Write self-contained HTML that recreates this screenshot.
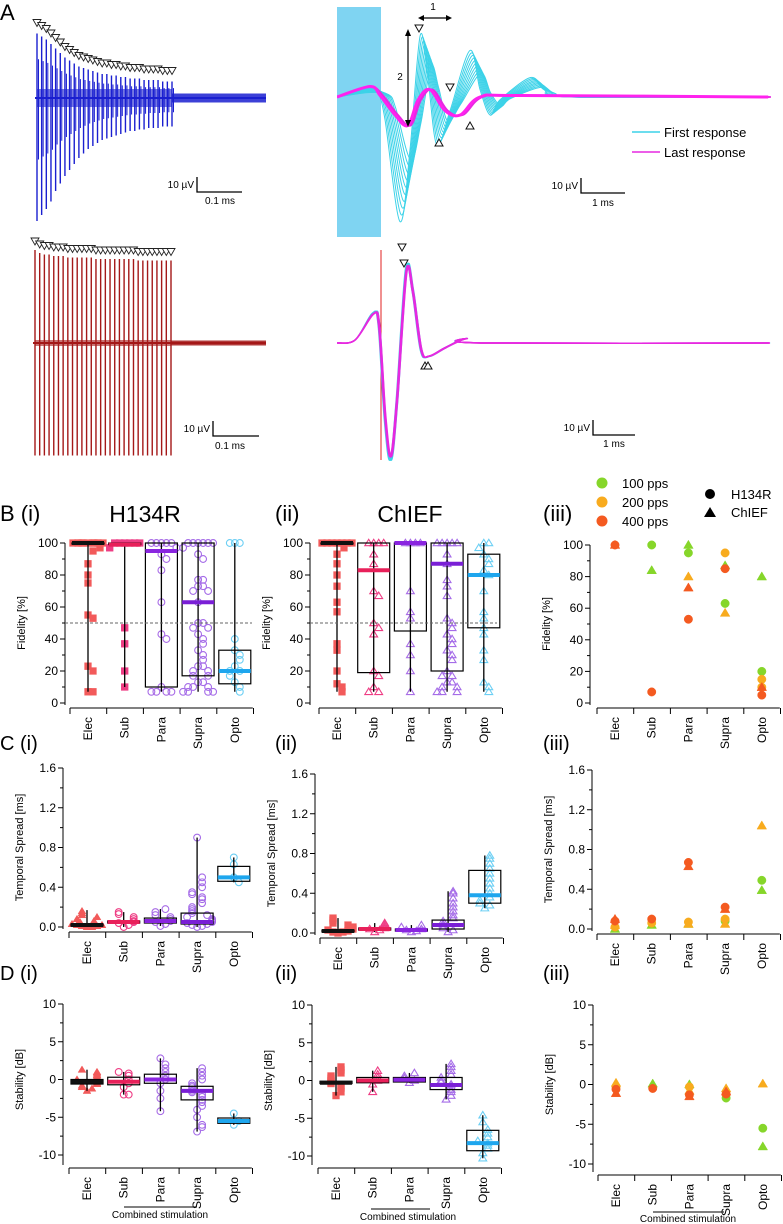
<!DOCTYPE html>
<html><head><meta charset="utf-8"><style>
html,body{margin:0;padding:0;background:#fff;}
svg{display:block;font-family:"Liberation Sans",sans-serif;}
.t{font-family:"Liberation Sans Narrow","Liberation Sans",sans-serif;}
</style></head><body>
<svg id="fig" width="783" height="1224" viewBox="0 0 783 1224" xmlns="http://www.w3.org/2000/svg">
<defs><clipPath id="clipR"><rect x="337" y="0" width="434" height="470"/></clipPath></defs>
<g id="panelA"></g>
<g id="charts"></g>
</svg>
<script>
// ===== Panel A data =====
const blueUp=[43,41,39,36,33,30,27,25,23,21,20,19,18,17,16,16,15,15,14,14,13,13,13,12,12,12,12,11,11,11];
const blueDown=[82,78,74,69,62,57,52,48,44,40,37,34,32,30,28,27,26,25,24,23,22,22,21,21,20,20,20,19,19,19];
const redUp=[62,60,59,59,58,58,58,57,57,57,57,57,57,56,56,56,56,56,56,56,56,56,55,55,55,55,55,55,55,55];
const redDown=[75,75,75,75,75,75,75,75,75,75,75,75,75,75,75,75,75,75,75,75,75,75,75,75,75,75,75,75,75,75];
const firstX=[0,0.75,0.93,1.09,1.43,1.66,1.89,2.07,2.27,2.57,3.02,3.25,3.48,3.7,4.4,4.7,5.3,9.8];
const firstY=[0,6,3,-15,-83,-35,41,11,-32,-9,31,5,-12,-2,13,5,0,0];
const lastX=[0,0.75,0.98,1.32,1.61,1.84,2.11,2.45,2.8,3.25,4.2,9.8];
const lastY=[0,7,1,-12,-19,-2,5,-9,-12,0,1,0];
const bottomX=[0,0.41,0.8,0.93,1.07,1.2,1.34,1.55,1.7,1.89,2.07,2.45,2.91,3.25,9.8];
const bottomY=[0,2,20,12,-51,-78,-38,49,35,-5,-9,-3,3,0,0];

const NS="http://www.w3.org/2000/svg";
function mk(tag,attrs,parent){const e=document.createElementNS(NS,tag);for(const k in attrs)e.setAttribute(k,attrs[k]);parent.appendChild(e);return e;}
const A=document.getElementById('panelA');
const C=document.getElementById('charts');

let el=mk('text',{x:0,y:20,'font-size':22},A);el.textContent='A';



const uvPx=1.5;
function train(up,down,x0,x1,base,color,name,triOff,band,tail,dbl){
  const g=mk('g',{},A);
  
  
  const n=up.length, step=(x1-x0)/(n-1);
  mk('line',{x1:x0-2,x2:266,y1:base,y2:base,stroke:color,'stroke-width':2},g);
  mk('rect',{x:x0,y:base-band/2,width:x1-x0,height:band,fill:color,opacity:0.6},g);
  for(let i=0;i<n;i++){
    const x=x0+i*step;
    mk('line',{x1:x,x2:x,y1:base-up[i]*uvPx,y2:base+down[i]*uvPx,stroke:color,'stroke-width':1.4},g);
    if(dbl)mk('line',{x1:x+1.5,x2:x+1.5,y1:base-up[i]*uvPx*0.6,y2:base+down[i]*uvPx*0.5,stroke:color,'stroke-width':1},g);
    const ty=base-up[i]*uvPx-triOff;
    mk('path',{d:`M${x-4},${ty-4}L${x+4},${ty-4}L${x},${ty+3}Z`,fill:'#fff',stroke:'#222','stroke-width':0.9},g);
  }
  mk('rect',{x:x1,y:base-tail/2,width:266-x1,height:tail,fill:color,opacity:0.85},g);
}
train(blueUp,blueDown,37,172,98,'#1a1fd0','blue-spike-train',10,18,9,true);
train(redUp,redDown,35,171,343,'#a41818','red-spike-train',8,6,5,false);

const msPx=44, t0=337;
function smooth(pts){
  let d='M'+pts[0][0].toFixed(1)+','+pts[0][1].toFixed(1);
  for(let i=0;i<pts.length-1;i++){
    const p0=pts[Math.max(0,i-1)],p1=pts[i],p2=pts[i+1],p3=pts[Math.min(pts.length-1,i+2)];
    const c1=[p1[0]+(p2[0]-p0[0])/6,p1[1]+(p2[1]-p0[1])/6];
    const c2=[p2[0]-(p3[0]-p1[0])/6,p2[1]-(p3[1]-p1[1])/6];
    d+=`C${c1[0].toFixed(1)},${c1[1].toFixed(1)} ${c2[0].toFixed(1)},${c2[1].toFixed(1)} ${p2[0].toFixed(1)},${p2[1].toFixed(1)}`;
  }
  return d;
}
function wave(xs,ys,base,color,name,dx,sc,w){
  const pts=xs.map((v,i)=>[t0+v*msPx+(i>1?dx:0),base-ys[i]*sc*uvPx]);
  const p=mk('path',{d:smooth(pts),fill:'none',stroke:color,'stroke-width':w||1,'stroke-linejoin':'round','clip-path':'url(#clipR)'},A);
  
  
}
mk('rect',{x:337,y:7,width:44,height:230,fill:'#7fd4f2'},A);
for(let k=0;k<10;k++){wave(firstX,firstY,97,'#3cd2e8','first-response-trace',k*1.2,1-k*0.055,1);}
for(let k=0;k<5;k++){wave(lastX,lastY,97,k<2?'#8a7ff0':'#e629e0','last-response-trace',k*0.8,1,1.4);}
wave(lastX,lastY,97,'#ff22ee','last-response-trace',0,1,3);
mk('line',{x1:408,x2:408,y1:32,y2:124,stroke:'#000','stroke-width':1.2},A);
mk('path',{d:'M405,36L408,29L411,36ZM405,120L408,127L411,120Z',fill:'#000'},A);
mk('line',{x1:422,x2:448,y1:18,y2:18,stroke:'#000','stroke-width':1.2},A);
mk('path',{d:'M424,15L418,18L424,21ZM446,15L452,18L446,21Z',fill:'#000'},A);
el=mk('text',{x:433,y:10,'font-size':10,'text-anchor':'middle'},A);el.textContent='1';
el=mk('text',{x:400,y:80,'font-size':10,'text-anchor':'middle'},A);el.textContent='2';
function tri(x,y,down,g){mk('path',{d:down?`M${x-4},${y-4}L${x+4},${y-4}L${x},${y+3}Z`:`M${x-4},${y+3}L${x+4},${y+3}L${x},${y-4}Z`,fill:'#fff',stroke:'#111','stroke-width':1},g);}
tri(419,29,true,A);tri(450,88,true,A);tri(439,143,false,A);tri(470,126,false,A);
mk('line',{x1:632,x2:660,y1:132,y2:132,stroke:'#3cd2e8','stroke-width':1.5},A);
mk('line',{x1:632,x2:660,y1:152,y2:152,stroke:'#e629e0','stroke-width':1.5},A);
el=mk('text',{x:664,y:137,'font-size':13,class:'t'},A);el.textContent='First response';

el=mk('text',{x:664,y:157,'font-size':13,class:'t'},A);el.textContent='Last response';


mk('line',{x1:381,x2:381,y1:250,y2:460,stroke:'#e02020','stroke-width':1},A);
for(let k=0;k<5;k++){wave(bottomX,bottomY,343,'#3cd2e8','bottom-first-trace',k*0.5,1,1);}
for(let k=0;k<4;k++){wave(bottomX,bottomY,343,'#e629e0','bottom-last-trace',0.6+k*0.4,0.97,1.5);}
tri(402,248,true,A);tri(404,264,true,A);tri(425,366,false,A);tri(428,366,false,A);

function sbar(x,y,len,lab1,lab2,lx,ly2,name){
  const g=mk('g',{},A);
  
  
  mk('path',{d:`M${x},${y-15}L${x},${y}L${x+len},${y}`,fill:'none',stroke:'#000','stroke-width':1.3},g);
  let t=mk('text',{x:x-3,y:y-4,'font-size':10,'text-anchor':'end',class:'t'},g);t.textContent=lab1;
  t=mk('text',{x:lx,y:ly2,'font-size':10,'text-anchor':'middle',class:'t'},g);t.textContent=lab2;
}
sbar(197,192,45,'10 µV','0.1 ms',220,204,'scale-bar-top-left');
sbar(581,193,44,'10 µV','1 ms',603,206,'scale-bar-top-right');
sbar(213,436,46,'10 µV','0.1 ms',230,449,'scale-bar-bottom-left');
sbar(593,435,42,'10 µV','1 ms',614,447,'scale-bar-bottom-right');

// ===== Summary charts data =====
const cats=['Elec','Sub','Para','Supra','Opto'];
const fidH_med=[100,99,95,63,20], fidH_q1=[100,99,10,17,12], fidH_q3=[100,100,100,100,33], fidH_lo=[7,10,7,7,7], fidH_hi=[100,100,100,100,100];
const fidH_pts=[[100,100,100,100,100,100,100,100,100,97,95,87,80,75,55,53,23,20,7,7],[100,100,100,100,100,100,97,47,37,20,10],[100,100,100,100,100,97,93,90,83,63,43,40,10,7,7,7,7],[100,100,100,100,100,100,97,93,90,77,77,73,73,70,70,63,50,50,47,47,43,40,37,33,30,27,23,23,20,20,17,17,13,13,10,10,10,7,7,7,7],[100,100,100,40,33,30,27,23,20,20,17,13,10,7]];
const fidC_med=[100,83,100,87,80], fidC_q1=[100,19,45,20,47], fidC_q3=[100,100,100,100,93], fidC_lo=[7,7,7,7,7], fidC_hi=[100,100,100,100,100];
const fidC_pts=[[100,100,100,100,100,100,100,97,93,87,80,73,63,57,37,33,20,12,10,7],[100,100,100,100,93,87,70,67,50,47,43,20,17,10,7,7],[100,100,100,100,70,57,53,37,30,20,7],[100,100,100,100,100,93,87,77,73,67,53,50,47,43,40,37,33,30,27,20,17,17,13,13,10,10,7,7,7],[100,100,97,93,90,87,83,80,70,57,53,47,43,33,27,13,10,7]];
const tsH_med=[0.02,0.05,0.06,0.05,0.5], tsH_q1=[0.01,0.04,0.04,0.03,0.46], tsH_q3=[0.03,0.06,0.09,0.14,0.61], tsH_lo=[0,0,0.01,0,0.45], tsH_hi=[0.17,0.15,0.18,0.9,0.7];
const tsH_pts=[[0,0,0.01,0.01,0.02,0.02,0.03,0.04,0.05,0.06,0.08,0.1,0.12,0.14,0.16],[0,0.02,0.04,0.05,0.06,0.08,0.1,0.13,0.15],[0.01,0.03,0.05,0.06,0.08,0.1,0.12,0.15,0.18],[0,0.01,0.02,0.03,0.04,0.05,0.06,0.07,0.08,0.1,0.12,0.14,0.16,0.18,0.2,0.24,0.28,0.3,0.33,0.35,0.4,0.45,0.5,0.9],[0.7,0.63,0.5,0.45]];
const tsC_med=[0.02,0.04,0.03,0.08,0.38], tsC_q1=[0.01,0.03,0.02,0.04,0.3], tsC_q3=[0.03,0.05,0.04,0.13,0.63], tsC_lo=[0,0.01,0.01,0.01,0.25], tsC_hi=[0.15,0.1,0.08,0.42,0.78];
const tsC_pts=[[0,0.01,0.01,0.02,0.03,0.04,0.06,0.08,0.1,0.13,0.15],[0.01,0.03,0.04,0.05,0.07,0.09,0.1],[0.01,0.02,0.03,0.04,0.06,0.08],[0.01,0.03,0.05,0.07,0.09,0.12,0.15,0.18,0.22,0.26,0.3,0.35,0.4,0.42],[0.25,0.28,0.3,0.33,0.36,0.4,0.45,0.5,0.55,0.6,0.65,0.7,0.75,0.78]];
const stH_med=[-0.3,-0.3,0,-1.5,-5.5], stH_q1=[-0.6,-0.7,-0.5,-2.7,-5.8], stH_q3=[0,0.3,0.7,-0.9,-5.1], stH_lo=[-1.5,-2,-4.2,-6.9,-6], stH_hi=[1.3,1,2.8,1.5,-4.5];
const stH_pts=[[-1.5,-1.2,-1,-0.8,-0.6,-0.5,-0.3,-0.2,0,0.2,0.4,0.6,0.8,1,1.3],[-2,-2,-1,-0.5,0,0.5,0.8,1],[-4.2,-2.5,-1.5,-0.5,0,0.5,1,1.5,2,2.8],[-6.9,-6.3,-6,-5,-4,-3.5,-3,-2.7,-2.3,-2,-1.7,-1.5,-1.3,-1,-0.8,-0.5,0,0.5,1,1.5],[-6,-5.5,-4.5]];
const stC_med=[-0.3,0,0.1,-0.6,-8.3], stC_q1=[-0.4,-0.3,-0.2,-1.2,-9.3], stC_q3=[-0.1,0.4,0.4,0.4,-6.6], stC_lo=[-2,-1.5,-0.3,-2.5,-10.3], stC_hi=[1.8,1.3,1,2.2,-4.6];
const stC_pts=[[-2,-1.5,-1,-0.7,-0.4,-0.2,0,0.3,0.6,1,1.4,1.8],[-1.5,-0.5,0,0.4,0.8,1.3],[-0.3,0,0.3,0.6,1],[-2.5,-2,-1.5,-1.2,-0.8,-0.5,-0.2,0,0.4,0.8,1.3,1.8,2.2],[-10.3,-9.6,-9,-8.6,-8.3,-8,-7.5,-7,-6.5,-5.5,-4.6]];
const rate=['100 pps','200 pps','400 pps'];
const fidHr_cat=[[1,2,3,4],[3,4,4],[1,2,3,4,0]], fidHr_val=[[100,95,63,20],[95,15,10],[7,53,85,5,100]];
const fidCr_cat=[[1,2,3,4],[2,3],[0,2,4]], fidCr_val=[[84,100,87,80],[80,57],[100,73,10]];
const tsHr_cat=[[3,4],[0,1,2,3],[0,1,2,3]], tsHr_val=[[0.08,0.49],[0.02,0.06,0.07,0.1],[0.08,0.1,0.67,0.22]];
const tsCr_cat=[[0,1,2,4],[0,2,3,4],[0,2,3]], tsCr_val=[[0,0.04,0.05,0.39],[0.04,0.05,0.05,1.04],[0.1,0.63,0.2]];
const stHr_cat=[[3,4],[0,2],[0,1,2,3]], stHr_val=[[-1.7,-5.5],[-0.3,-0.3],[-0.6,-0.5,-1.3,-1.2]];
const stCr_cat=[[1,2,4],[0,2,3,4],[0,2,3]], stCr_val=[[0.1,0,-7.8],[0.2,-0.8,-0.5,0.1],[-1.1,-1.5,-0.9]];

const rateCol=['#86d62a','#f8ab1e','#f45a20'];
const ptCol=['#f25a5a','#ee3d84','#a86ce6','#a56ce8','#6ccff4'];
const medCol=['#111','#e8205a','#8a25e0','#7a1fd6','#1ea6ee'];

function axisY(g,cfg){
  const {ax,vTop,vBot,yTop,yBot,ticks,minor,fmt,yEnd}=cfg;
  const sc=v=>yBot+(v-vBot)*(yTop-yBot)/(vTop-vBot);
  mk('line',{x1:ax,x2:ax,y1:yTop,y2:yEnd,stroke:'#000','stroke-width':1},g);
  ticks.forEach(v=>{const y=sc(v);mk('line',{x1:ax-5,x2:ax,y1:y,y2:y,stroke:'#000'},g);
    const t=mk('text',{x:ax-7,y:y+4,'font-size':12,'text-anchor':'end',class:'t'},g);t.textContent=fmt(v);
    });
  minor.forEach(v=>{const y=sc(v);mk('line',{x1:ax-3,x2:ax,y1:y,y2:y,stroke:'#000'},g);});
  return sc;
}
function axisX(g,cx,y){
  mk('line',{x1:cx-18,x2:cx+4*36.7+18,y1:y,y2:y,stroke:'#000'},g);
  for(let i=0;i<=5;i++){const x=cx-18+i*36.7;mk('line',{x1:x,x2:x,y1:y,y2:y+6,stroke:'#000'},g);}
  cats.forEach((c,i)=>{const x=cx+i*36.7;
    const t=mk('text',{x:0,y:0,'font-size':12,'text-anchor':'end',transform:`translate(${x+4},${y+9}) rotate(-90)`},g);t.textContent=c;
    });
}
function marker(g,shape,x,y,col,filled,r){
  const a={fill:filled?col:'none',stroke:col,'stroke-width':filled?0.5:1.1};
  if(shape==='sq')mk('rect',Object.assign({x:x-r,y:y-r,width:2*r,height:2*r},a),g);
  else if(shape==='tri')mk('path',Object.assign({d:`M${x-r-0.5},${y+r*0.8}L${x+r+0.5},${y+r*0.8}L${x},${y-r*1.1}Z`},a),g);
  else mk('circle',Object.assign({cx:x,cy:y,r:r},a),g);
}
function ytitle(g,x,y,txt){const t=mk('text',{x:0,y:0,'font-size':11,'text-anchor':'middle',transform:`translate(${x},${y}) rotate(-90)`},g);t.textContent=txt;
  }

function boxChart(name,cfg,med,q1,q3,lo,hi,pts,shapes,fills){
  const g=mk('g',{},C);
  
  
  const sc=axisY(g,cfg);
  axisX(g,cfg.cx,cfg.xAxisY);
  ytitle(g,cfg.ax-40,(cfg.yTop+cfg.yBot)/2,cfg.title);
  cats.forEach((c,i)=>{
    const x=cfg.cx+i*36.7;
    const placed=[];
    pts[i].forEach(v=>{const y=sc(v);let n=0;placed.forEach(p=>{if(Math.abs(p-y)<5)n++;});placed.push(y);
      let off=(n%2?1:-1)*Math.ceil(n/2)*5;if(Math.abs(off)>15)off=Math.sign(off)*((Math.abs(off)%15)+2);
      marker(g,shapes[i],x+off,y,ptCol[i],fills[i],3.4);});
    const b=mk('rect',{x:x-16,y:sc(q3[i]),width:32,height:Math.max(1,sc(q1[i])-sc(q3[i])),fill:'none',stroke:'#000','stroke-width':1.2},g);
    
    mk('line',{x1:x,x2:x,y1:sc(hi[i]),y2:sc(lo[i]),stroke:'#000','stroke-width':1.3},g);
    const m=mk('line',{x1:x-16,x2:x+16,y1:sc(med[i]),y2:sc(med[i]),stroke:medCol[i],'stroke-width':4},g);
    
  });
}
function scatterChart(name,cfg,hc,hv,cc,cv){
  const g=mk('g',{},C);
  
  
  const sc=axisY(g,cfg);
  axisX(g,cfg.cx,cfg.xAxisY);
  ytitle(g,cfg.ax-40,(cfg.yTop+cfg.yBot)/2,cfg.title);
  [0,1,2].forEach(r=>{
    hc[r].forEach((ci,j)=>marker(g,'circ',cfg.cx+ci*36.7,sc(hv[r][j]),rateCol[r],true,4.2));
    cc[r].forEach((ci,j)=>marker(g,'tri',cfg.cx+ci*36.7,sc(cv[r][j]),rateCol[r],true,4.3));
  });
}
const f0=v=>String(v), f1=v=>v.toFixed(1);
const fidT=[0,20,40,60,80,100], fidM=[10,30,50,70,90];
const tsT=[0,0.4,0.8,1.2,1.6], tsM=[0.2,0.6,1.0,1.4];
const stT=[-10,-5,0,5,10], stM=[-7.5,-2.5,2.5,7.5];
function cfgB(ax,cx,yTop,yBot){return {ax,cx,vTop:100,vBot:0,yTop,yBot,ticks:fidT,minor:fidM,fmt:f0,yEnd:yBot+2,xAxisY:yBot+5,title:'Fidelity [%]'};}
function cfgC(ax,cx,yTop,yBot){return {ax,cx,vTop:1.6,vBot:0,yTop,yBot,ticks:tsT,minor:tsM,fmt:f1,yEnd:yBot+2,xAxisY:yBot+5,title:'Temporal Spread [ms]'};}
function cfgD(ax,cx,yTop,yBot,xa){return {ax,cx,vTop:10,vBot:-10,yTop,yBot,ticks:stT,minor:stM,fmt:f0,yEnd:xa-3,xAxisY:xa,title:'Stability [dB]'};}

const shH=['sq','sq','circ','circ','circ'], fiH=[true,true,false,false,false];
const shHc=['tri','circ','circ','circ','circ'], fiHc=[true,false,false,false,false];
const shC=['sq','tri','tri','tri','tri'], fiC=[true,false,false,false,false];
boxChart('chart-fidelity-h134r',cfgB(65,88,543,703),fidH_med,fidH_q1,fidH_q3,fidH_lo,fidH_hi,fidH_pts,shH,fiH);
boxChart('chart-fidelity-chief',cfgB(310,337,543,703),fidC_med,fidC_q1,fidC_q3,fidC_lo,fidC_hi,fidC_pts,shC,fiC);
scatterChart('chart-fidelity-rate',cfgB(590,615,545,703),fidHr_cat,fidHr_val,fidCr_cat,fidCr_val);
boxChart('chart-spread-h134r',cfgC(63,87,768,927),tsH_med,tsH_q1,tsH_q3,tsH_lo,tsH_hi,tsH_pts,shHc,fiHc);
boxChart('chart-spread-chief',cfgC(315,338,774,933),tsC_med,tsC_q1,tsC_q3,tsC_lo,tsC_hi,tsC_pts,shC,fiC);
scatterChart('chart-spread-rate',cfgC(592,615,770,929),tsHr_cat,tsHr_val,tsCr_cat,tsCr_val);
boxChart('chart-stability-h134r',cfgD(63,87,1004,1155,1168),stH_med,stH_q1,stH_q3,stH_lo,stH_hi,stH_pts,shHc,fiHc);
boxChart('chart-stability-chief',cfgD(312,336,1005,1156,1168),stC_med,stC_q1,stC_q3,stC_lo,stC_hi,stC_pts,shC,fiC);
scatterChart('chart-stability-rate',cfgD(593,616,1005,1164,1175),stHr_cat,stHr_val,stCr_cat,stCr_val);

[[65,252],[310,497]].forEach(([a,b])=>{const l=mk('line',{x1:a,x2:b,y1:623,y2:623,stroke:'#666','stroke-dasharray':'3,2','stroke-width':1},C);
  });

[[124,197,1207,1218,160],[371,430,1209,1220,408],[653,724,1212,1222,688]].forEach(([a,b,y,ty,tx])=>{
  mk('line',{x1:a,x2:b,y1:y,y2:y,stroke:'#000','stroke-width':1},C);
  const t=mk('text',{x:tx,y:ty,'font-size':10,'text-anchor':'middle',class:'t'},C);t.textContent='Combined stimulation';
  });

[['B (i)',0,521,22],['(ii)',275,521,22],['(iii)',543,521,22],['C (i)',0,750,20],['(ii)',275,750,20],['(iii)',543,750,20],['D (i)',0,980,20],['(ii)',275,980,20],['(iii)',543,980,20]].forEach(([s,x,y,fs])=>{
  const t=mk('text',{x:x,y:y,'font-size':fs,class:'t'},C);t.textContent=s;
  });
el=mk('text',{x:145,y:522,'font-size':23,'text-anchor':'middle',class:'t'},C);el.textContent='H134R';

el=mk('text',{x:410,y:522,'font-size':23,'text-anchor':'middle',class:'t'},C);el.textContent='ChIEF';


rate.forEach((r,i)=>{const y=483+i*19;
  mk('circle',{cx:602,cy:y,r:5.5,fill:rateCol[i]},C);
  const t=mk('text',{x:622,y:y+5,'font-size':13},C);t.textContent=r;
  });
mk('circle',{cx:710,cy:494,r:5,fill:'#000'},C);
mk('path',{d:'M704,517L716,517L710,507Z',fill:'#000'},C);
el=mk('text',{x:731,y:499,'font-size':13},C);el.textContent='H134R';

el=mk('text',{x:731,y:517,'font-size':13},C);el.textContent='ChIEF';

</script>
</body></html>
